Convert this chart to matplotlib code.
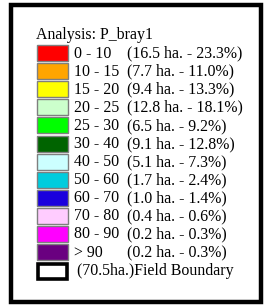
import matplotlib.pyplot as plt
from matplotlib.patches import Rectangle

title = 'Analysis: P_bray1'
ranges = ['0 - 10', '10 - 15', '15 - 20', '20 - 25', '25 - 30', '30 - 40',
          '40 - 50', '50 - 60', '60 - 70', '70 - 80', '80 - 90', '> 90']
hectares = [16.5, 7.7, 9.4, 12.8, 6.5, 9.1, 5.1, 1.7, 1.0, 0.4, 0.2, 0.2]
percents = [23.3, 11.0, 13.3, 18.1, 9.2, 12.8, 7.3, 2.4, 1.4, 0.6, 0.3, 0.3]
colors = ['#ff0000', '#ffa500', '#ffff00', '#ccffcc', '#00ff00', '#006400',
          '#ccffff', '#00ccdd', '#1a00dd', '#ffccff', '#ff00ff', '#6a0080']
field_area = 70.5

plt.rcParams['font.family'] = ['Liberation Serif', 'DejaVu Serif']

fig = plt.figure(figsize=(2.64, 3.06), dpi=100)
ax = fig.add_axes([0, 0, 1, 1])
ax.set_xlim(0, 264)
ax.set_ylim(306, 0)
ax.axis('off')

# outer frame
ax.add_patch(Rectangle((10.5, 5), 250.5, 297, fill=False, ec='black', lw=3.2))

fs = 11.4
ax.text(36, 39, title, fontsize=fs, va='baseline', ha='left')

y0, step = 45, 18.1
sw_x, sw_w, sw_h = 37, 31, 16
for i, (r, h, p, c) in enumerate(zip(ranges, hectares, percents, colors)):
    top = y0 + i * step
    ax.add_patch(Rectangle((sw_x, top), sw_w, sw_h, fc=c, ec='#7f7f7f', lw=1.0))
    ax.text(74, top + sw_h / 2 + 0.5, r, fontsize=fs, va='center', ha='left')
    ax.text(127, top + sw_h / 2 + 0.5, f'({h:.1f} ha. - {p:.1f}%)',
            fontsize=fs, va='center', ha='left')

top = y0 + len(ranges) * step + 1
ax.add_patch(Rectangle((sw_x + 1, top + 1), sw_w - 2, sw_h - 1, fc='white', ec='black', lw=2.6))
ax.text(77, top + sw_h / 2, f'({field_area}ha.)Field Boundary', fontsize=fs, va='center', ha='left')

fig.savefig('out.png', dpi=100)
